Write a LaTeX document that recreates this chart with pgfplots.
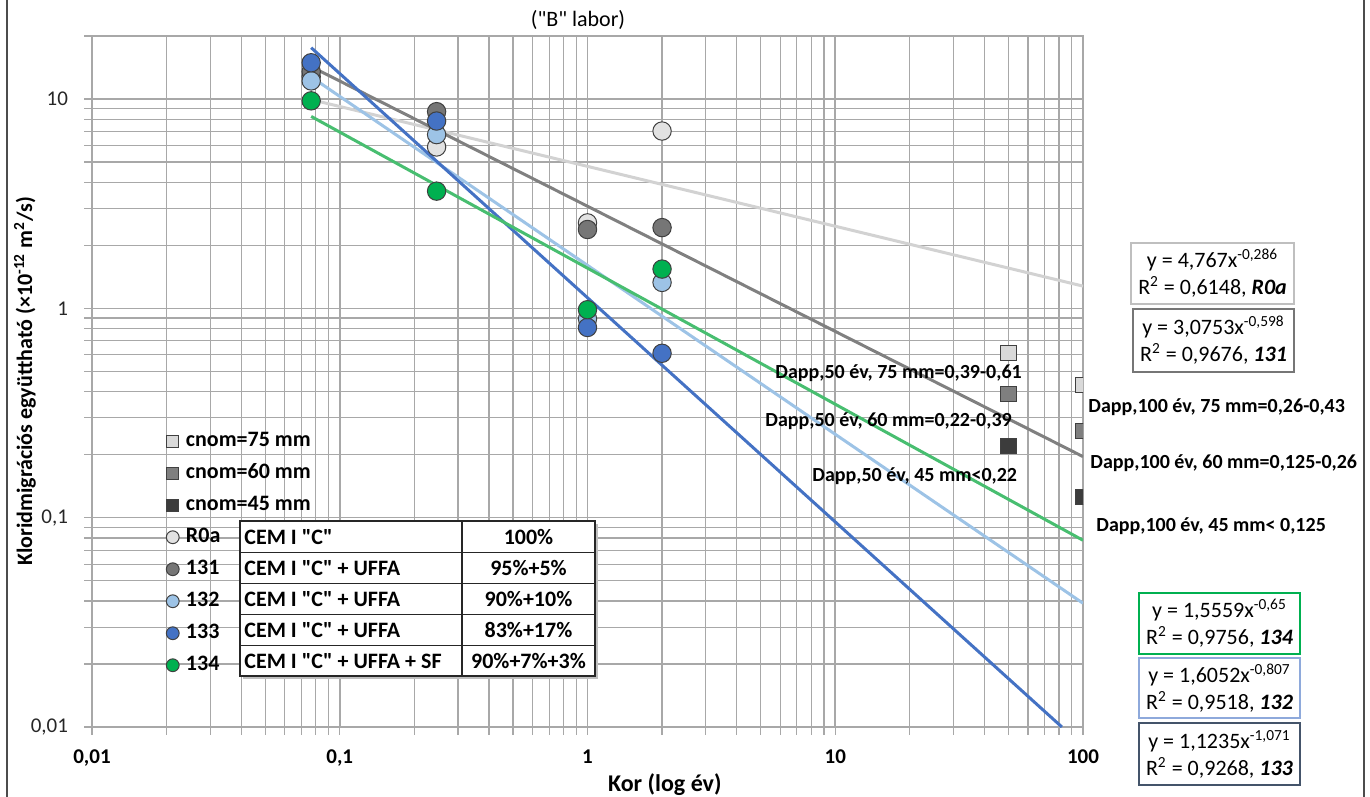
\documentclass[border=0pt]{standalone}
\usepackage{fontspec}
\setmainfont{Carlito}[Ligatures=TeXOff]
\usepackage{pgfplots}
\pgfplotsset{compat=1.18}
\newcommand{\q}{"}
\definecolor{cR0a}{RGB}{226,226,226}
\definecolor{c131}{RGB}{118,118,118}
\definecolor{c132}{RGB}{157,195,230}
\definecolor{c133}{RGB}{68,114,196}
\definecolor{c134}{RGB}{0,176,80}
\definecolor{lR0a}{RGB}{210,210,210}
\definecolor{l131}{RGB}{128,128,128}
\definecolor{l132}{RGB}{157,195,230}
\definecolor{l133}{RGB}{68,114,196}
\definecolor{l134}{RGB}{72,190,112}
\definecolor{s75}{RGB}{217,217,217}
\definecolor{s60}{RGB}{127,127,127}
\definecolor{s45}{RGB}{60,60,60}
\definecolor{gridc}{RGB}{168,168,168}
\definecolor{b1}{RGB}{191,191,191}
\definecolor{b2}{RGB}{118,118,118}
\definecolor{b3}{RGB}{0,176,80}
\definecolor{b4}{RGB}{142,169,219}
\definecolor{b5}{RGB}{68,84,106}
\begin{document}
\begin{tikzpicture}
\useasboundingbox (0,0) rectangle (685pt,398.5pt);
\begin{axis}[
  at={(46pt,35pt)}, anchor=south west,
  scale only axis, width=495.5pt, height=345.5pt,
  xmode=log, ymode=log,
  xmin=0.01, xmax=100, ymin=0.01, ymax=20,
  xtick={0.01,0.1,1,10,100}, xticklabels={{0,01},{0,1},{1},{10},{100}},
  ytick={0.01,0.1,1,10}, yticklabels={{0,01},{0,1},{1},{10}},
  minor xtick={0.02,0.03,0.04,0.05,0.06,0.07,0.08,0.09,0.2,0.3,0.4,0.5,0.6,0.7,0.8,0.9,2,3,4,5,6,7,8,9,20,30,40,50,60,70,80,90},
  minor ytick={0.02,0.03,0.04,0.05,0.06,0.07,0.08,0.09,0.2,0.3,0.4,0.5,0.6,0.7,0.8,0.9,2,3,4,5,6,7,8,9,20},
  grid=both,
  major grid style={gridc, line width=0.8pt},
  minor grid style={gridc, line width=0.6pt},
  axis line style={gridc, line width=0.8pt},
  tick pos=left, tick align=outside,
  major tick length=4pt, minor tick length=4pt,
  every tick/.style={gridc, line width=0.6pt},
  xticklabel style={font=\bfseries\fontsize{10.5}{12}\selectfont, yshift=-4pt},
  yticklabel style={font=\fontsize{10.5}{12}\selectfont, xshift=-4.5pt, text=black!85},
  xlabel={Kor (log év)},
  ylabel={Kloridmigrációs együttható (×10\textsuperscript{-12} m\textsuperscript{2}/s)},
  every axis x label/.style={at={(axis description cs:0.578,-0.084)}, anchor=center, font=\bfseries\fontsize{12}{14}\selectfont},
  every axis y label/.style={at={(axis description cs:-0.0676,0.5)}, rotate=90, anchor=center, font=\bfseries\fontsize{11}{13}\selectfont},
  legend image code/.code={\path (0cm,0cm) (0.41cm,0cm); \draw[mark repeat=2,mark phase=2,#1] plot coordinates {(0cm,0cm) (0.22cm,0cm) (0.44cm,0cm)};},
  legend cell align=left,
  legend style={at={(axis description cs:0.062,0.438)}, anchor=north west, draw=none, fill=none,
    font=\bfseries\fontsize{11}{13}\selectfont,
    nodes={inner sep=1pt, text height=8pt, text depth=2.5pt}, row sep=3.5pt},
]
\addlegendimage{only marks, mark=square*, mark size=3pt, mark options={fill=s75, draw=black!75, line width=0.5pt}}
\addlegendentry{cnom=75 mm}
\addlegendimage{only marks, mark=square*, mark size=3pt, mark options={fill=s60, draw=black!75, line width=0.5pt}}
\addlegendentry{cnom=60 mm}
\addlegendimage{only marks, mark=square*, mark size=3pt, mark options={fill=s45, draw=black!75, line width=0.5pt}}
\addlegendentry{cnom=45 mm}
\addlegendimage{only marks, mark=*, mark size=3.2pt, mark options={fill=cR0a, draw=black!75, line width=0.5pt}}
\addlegendentry{R0a}
\addlegendimage{only marks, mark=*, mark size=3.2pt, mark options={fill=c131, draw=black!75, line width=0.5pt}}
\addlegendentry{131}
\addlegendimage{only marks, mark=*, mark size=3.2pt, mark options={fill=c132, draw=black!75, line width=0.5pt}}
\addlegendentry{132}
\addlegendimage{only marks, mark=*, mark size=3.2pt, mark options={fill=c133, draw=black!75, line width=0.5pt}}
\addlegendentry{133}
\addlegendimage{only marks, mark=*, mark size=3.2pt, mark options={fill=c134, draw=black!75, line width=0.5pt}}
\addlegendentry{134}
% measured points
\addplot[only marks, mark=*, mark size=4.6pt, mark options={fill=cR0a, draw=black!75, line width=0.5pt}, forget plot]
  coordinates {(0.0767,12.8) (0.246,5.9) (1,2.56) (2,7.03)};
\addplot[only marks, mark=*, mark size=4.6pt, mark options={fill=c131, draw=black!75, line width=0.5pt}, forget plot]
  coordinates {(0.0767,13.5) (0.246,8.7) (1,2.38) (2,2.43)};
\addplot[only marks, mark=*, mark size=4.6pt, mark options={fill=c132, draw=black!75, line width=0.5pt}, forget plot]
  coordinates {(0.0767,12.2) (0.246,6.76) (1,0.89) (2,1.33)};
\addplot[only marks, mark=*, mark size=4.6pt, mark options={fill=c133, draw=black!75, line width=0.5pt}, forget plot]
  coordinates {(0.0767,14.9) (0.246,7.85) (1,0.81) (2,0.61)};
\addplot[only marks, mark=*, mark size=4.6pt, mark options={fill=c134, draw=black!75, line width=0.5pt}, forget plot]
  coordinates {(0.0767,9.8) (0.246,3.63) (1,0.985) (2,1.54)};
% cover limits
\addplot[only marks, mark=square*, mark size=3.8pt, mark options={fill=s75, draw=black!75, line width=0.5pt}, forget plot, clip mode=individual]
  coordinates {(50,0.61) (100,0.43)};
\addplot[only marks, mark=square*, mark size=3.8pt, mark options={fill=s60, draw=black!75, line width=0.5pt}, forget plot, clip mode=individual]
  coordinates {(50,0.39) (100,0.26)};
\addplot[only marks, mark=square*, mark size=3.8pt, mark options={fill=s45, draw=black!75, line width=0.5pt}, forget plot, clip mode=individual]
  coordinates {(50,0.22) (100,0.125)};
% power trend lines (straight on log-log)
\addplot[lR0a, line width=1.5pt, forget plot] coordinates {(0.0767,9.935) (100,1.277)};
\addplot[l131, line width=1.5pt, forget plot] coordinates {(0.0767,14.28) (100,0.1958)};
\addplot[l132, line width=1.5pt, forget plot] coordinates {(0.0767,12.75) (100,0.03902)};
\addplot[l133, line width=1.5pt, forget plot] coordinates {(0.0767,17.58) (82.2,0.01)};
\addplot[l134, line width=1.5pt, forget plot] coordinates {(0.0767,8.257) (100,0.07798)};
\end{axis}
\begin{scope}[x=0.5pt, y=-0.5pt, shift={(0,398.5pt)}]
  % frame
  \draw[black!70, line width=0.8pt] (7,-5) -- (7,802);
  \draw[black!70, line width=0.8pt] (1364,-5) -- (1364,802);
  % subtitle
  \node[font=\fontsize{11}{13}\selectfont] at (578,20) {(\q B\q{} labor)};
  % table
  \fill[black!25] (243,524) rectangle (598,679);
  \fill[white] (240,521) rectangle (595,676);
  \draw[black!85, line width=0.8pt] (240,521) rectangle (595,676);
  \foreach \yy in {552.5,583.5,614.5,645.5} \draw[black!85, line width=0.8pt] (240,\yy) -- (595,\yy);
  \draw[black!85, line width=0.8pt] (462,521) -- (462,676);
  \begin{scope}[every node/.style={font=\bfseries\fontsize{11}{13}\selectfont, inner sep=0pt}]
    \node[anchor=west] at (244,537) {CEM I \q C\q};
    \node[anchor=west] at (244,568) {CEM I \q C\q{} + UFFA};
    \node[anchor=west] at (244,599) {CEM I \q C\q{} + UFFA};
    \node[anchor=west] at (244,630) {CEM I \q C\q{} + UFFA};
    \node[anchor=west] at (244,661) {CEM I \q C\q{} + UFFA + SF};
    \node at (528.5,537) {100\%};
    \node at (528.5,568) {95\%+5\%};
    \node at (528.5,599) {90\%+10\%};
    \node at (528.5,630) {83\%+17\%};
    \node at (528.5,661) {90\%+7\%+3\%};
  \end{scope}
  % annotations
  \begin{scope}[every node/.style={font=\bfseries\fontsize{10}{12}\selectfont, inner sep=0pt, anchor=west}]
    \node at (775,373) {Dapp,50 év, 75 mm=0,39-0,61};
    \node at (1088,407) {Dapp,100 év, 75 mm=0,26-0,43};
    \node at (765,421) {Dapp,50 év, 60 mm=0,22-0,39};
    \node at (1090,463) {Dapp,100 év, 60 mm=0,125-0,26};
    \node at (812,476) {Dapp,50 év, 45 mm<0,22};
    \node at (1096,526) {Dapp,100 év, 45 mm< 0,125};
  \end{scope}
  % equation boxes
  \begin{scope}[every node/.style={font=\fontsize{11}{13.5}\selectfont, align=center, inner sep=0pt}]
    \draw[b1, line width=1.3pt, fill=white] (1131,243) rectangle (1294,304);
    \node at (1212.5,273.5) {y = 4,767x\textsuperscript{-0,286}\\R\textsuperscript{2} = 0,6148, \textbf{\textit{R0a}}};
    \draw[b2, line width=1.3pt, fill=white] (1133,309) rectangle (1294,372);
    \node at (1213.5,340.5) {y = 3,0753x\textsuperscript{-0,598}\\R\textsuperscript{2} = 0,9676, \textbf{\textit{131}}};
    \draw[b3, line width=1.3pt, fill=white] (1139,593) rectangle (1300,654);
    \node at (1219.5,623.5) {y = 1,5559x\textsuperscript{-0,65}\\R\textsuperscript{2} = 0,9756, \textbf{\textit{134}}};
    \draw[b4, line width=1.3pt, fill=white] (1139,658) rectangle (1300,718);
    \node at (1219.5,688) {y = 1,6052x\textsuperscript{-0,807}\\R\textsuperscript{2} = 0,9518, \textbf{\textit{132}}};
    \draw[b5, line width=1.3pt, fill=white] (1139,723) rectangle (1300,785);
    \node at (1219.5,754) {y = 1,1235x\textsuperscript{-1,071}\\R\textsuperscript{2} = 0,9268, \textbf{\textit{133}}};
  \end{scope}
\end{scope}
\end{tikzpicture}
\end{document}
